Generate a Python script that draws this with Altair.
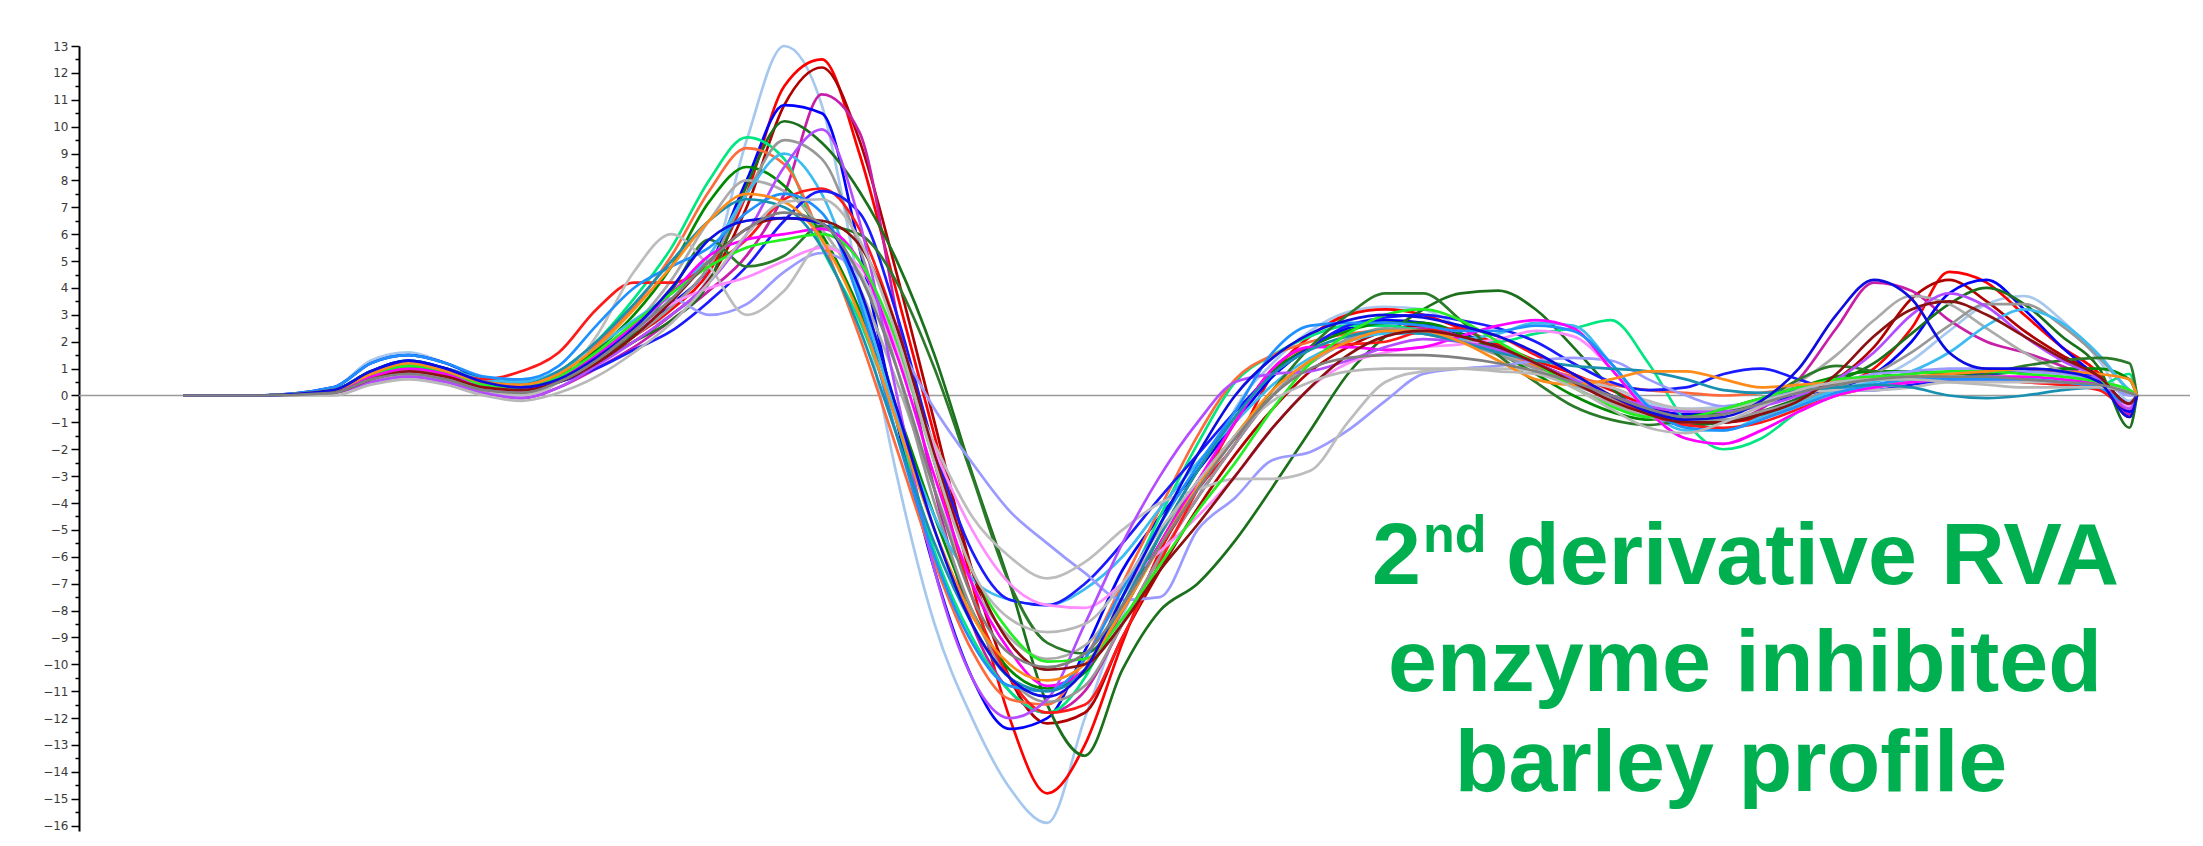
import altair as alt
import pandas as pd

# time axis (minutes) shared by every profile
time_min = [0, 0.5, 1.0, 1.25, 1.5, 1.75, 2.0, 2.25, 2.5, 2.75, 3.0, 3.25, 3.5, 3.75,
            4.0, 4.25, 4.5, 4.75, 5.0, 5.25, 5.5, 5.75, 6.0, 6.25, 6.5, 6.75, 7.0, 7.25,
            7.5, 7.75, 8.0, 8.25, 8.5, 8.75, 9.0, 9.25, 9.5, 9.75, 10.0, 10.25, 10.5, 10.75,
            11.0, 11.25, 11.5, 11.75, 12.0, 12.25, 12.5, 12.75, 12.95, 13.0]

s01 = [0, 0, 0.3, 1.3, 1.6, 1.2, 0.7, 0.5, 0.8, 1.6,
       2.4, 3.0, 4.5, 9.5, 13.0, 10.8, 4.0, -3.0, -8.5, -12.0, -14.6, -15.9, -12.0, -8.2, -5.5, -3.8, -0.5, 1.2,
       2.4, 3.1, 3.3, 3.2, 2.5, 1.8, 1.2, 0.6, 0.2, -0.3, -0.5, -0.4, -0.2, 0.1, 0.3, 0.6, 1.3, 2.4, 3.4, 3.7, 2.8, 1.3, -0.2, 0]
s02 = [0, 0, 0.2, 0.8, 1.1, 0.9, 0.5, 0.3, 0.6, 1.4,
       2.2, 3.2, 4.6, 7.5, 11.5, 12.5, 9.0, 3.8, -1.5, -7.0, -12.0, -14.8, -13.0, -9.2, -5.8, -3.5, -1.8, 0.8,
       2.2, 3.0, 3.2, 3.0, 2.5, 1.9, 1.3, 0.8, 0.2, -0.4, -0.8, -1.0, -0.8, -0.3, 0.3, 1.0, 2.5, 4.6, 4.2, 3.0, 1.8, 0.8, -0.8, 0]
s03 = [0, 0, 0.2, 0.7, 1.0, 0.8, 0.4, 0.2, 0.5, 1.2,
       2.0, 3.0, 4.3, 7.0, 10.8, 12.2, 9.5, 4.5, -1.0, -6.5, -10.5, -12.2, -11.8, -9.0, -6.5, -4.2, -2.2, -0.5,
       0.9, 1.8, 2.4, 2.6, 2.3, 1.8, 1.2, 0.6, 0.0, -0.5, -0.9, -1.0, -0.7, -0.1, 0.6, 1.8, 3.6, 4.3, 3.5, 2.4, 1.5, 0.7, -0.6, 0]
s04 = [0, 0, 0.1, 0.5, 0.7, 0.5, 0.1, -0.1, 0.3, 1.0,
       1.8, 2.8, 3.9, 5.2, 7.5, 11.2, 9.8, 3.0, -3.5, -8.5, -11.0, -11.8, -11.0, -8.5, -6.0, -3.8, -1.8, 0.0,
       1.2, 2.0, 2.4, 2.5, 2.2, 1.7, 1.1, 0.5, -0.1, -0.6, -1.0, -1.0, -0.5, 0.6, 2.5, 4.2, 3.9, 2.8, 2.0, 1.6, 1.1, 0.5, -0.7, 0]
s05 = [0, 0, 0.3, 1.2, 1.5, 1.2, 0.6, 0.4, 0.7, 1.5,
       2.4, 3.4, 4.8, 8.0, 10.8, 10.5, 5.5, -1.0, -6.5, -10.5, -12.4, -12.0, -9.5, -6.5, -4.5, -2.8, -1.0, 0.7,
       1.8, 2.5, 2.8, 2.7, 2.3, 1.8, 1.2, 0.6, 0.0, -0.5, -0.7, -0.6, -0.3, 0.0, 0.3, 0.8, 2.0, 3.8, 4.3, 3.2, 1.8, 0.6, -0.6, 0]
s06 = [0, 0, 0.2, 0.8, 1.1, 0.9, 0.5, 0.3, 0.5, 1.2,
       2.0, 2.8, 4.2, 7.8, 10.2, 9.4, 7.6, 5.0, 1.5, -2.9, -7.0, -11.5, -13.4, -10.2, -8.0, -7.0, -5.4, -3.4,
       -1.3, 0.8, 2.2, 3.2, 3.8, 3.9, 3.2, 1.8, 0.3, -0.7, -1.1, -1.0, -0.6, -0.1, 0.5, 1.2, 2.3, 3.4, 4.0, 3.4, 2.2, 1.0, -1.2, 0]
s07 = [0, 0, 0.2, 0.9, 1.3, 1.0, 0.5, 0.4, 0.9, 2.0,
       3.6, 5.5, 8.0, 9.6, 8.8, 5.5, 2.8, -1.0, -5.8, -9.0, -11.0, -11.8, -10.5, -7.5, -4.5, -1.8, 0.5, 1.5,
       2.2, 2.6, 2.6, 2.4, 2.1, 2.0, 2.3, 2.5, 2.8, 1.2, -1.0, -2.0, -1.6, -0.6, 0.0, 0.4, 0.5, 0.6, 0.6, 0.6, 0.5, 0.4, 0.8, 0]
s08 = [0, 0, 0.2, 0.8, 1.2, 0.9, 0.5, 0.4, 0.9, 1.9,
       3.3, 5.2, 7.6, 9.2, 8.6, 5.8, 2.2, -2.0, -6.2, -9.5, -11.3, -11.5, -9.8, -7.0, -4.2, -1.5, 0.6, 1.5,
       2.0, 2.3, 2.4, 2.3, 2.0, 1.6, 1.1, 0.7, 0.4, 0.2, 0.1, 0.0, 0.1, 0.3, 0.5, 0.6, 0.6, 0.6, 0.6, 0.5, 0.4, 0.3, 0.1, 0]
s09 = [0, 0, 0.2, 0.9, 1.2, 1.0, 0.6, 0.5, 0.8, 1.7,
       3.0, 4.8, 7.2, 8.5, 7.8, 6.0, 3.2, -0.5, -4.5, -8.0, -10.2, -10.9, -10.3, -8.0, -5.2, -2.8, -0.8, 0.9,
       1.8, 2.4, 2.7, 2.7, 2.3, 1.6, 0.8, 0.0, -0.6, -0.9, -0.8, -0.5, -0.1, 0.3, 0.7, 0.9, 0.9, 0.8, 0.8, 0.9, 1.0, 1.0, 0.6, 0]
s10 = [0, 0, 0.2, 0.7, 1.0, 0.8, 0.3, 0.1, 0.5, 1.3,
       2.6, 4.3, 6.5, 8.0, 7.6, 6.2, 4.0, 0.5, -3.5, -7.0, -9.0, -9.8, -9.3, -7.5, -5.2, -3.2, -1.5, 0.0,
       1.2, 2.0, 2.4, 2.4, 2.1, 1.6, 1.0, 0.3, -0.3, -0.8, -1.0, -0.7, -0.2, 0.5, 1.5, 2.8, 3.7, 3.4, 2.5, 1.6, 0.9, 0.5, 0.2, 0]
s11 = [0, 0, 0.1, 0.6, 0.9, 0.7, 0.3, 0.2, 0.5, 1.2,
       2.2, 3.3, 4.8, 7.5, 9.5, 8.8, 5.5, 1.0, -4.0, -8.0, -10.5, -11.4, -10.8, -8.5, -6.0, -3.8, -1.8, 0.0,
       1.3, 2.1, 2.5, 2.4, 2.0, 1.5, 1.0, 0.4, -0.1, -0.6, -0.9, -0.9, -0.6, -0.2, 0.3, 0.8, 1.6, 2.6, 3.4, 3.4, 2.6, 1.4, 0.2, 0]
s12 = [0, 0, 0.2, 0.9, 1.3, 1.0, 0.6, 0.5, 0.9, 1.8,
       2.8, 3.8, 5.2, 7.5, 9.0, 7.5, 3.8, -0.8, -4.5, -6.8, -7.6, -7.8, -7.2, -6.0, -4.2, -2.5, -1.0, 0.4,
       1.4, 2.0, 2.3, 2.3, 2.1, 2.3, 2.7, 2.6, 1.2, -0.5, -1.3, -1.3, -0.8, -0.3, 0.2, 0.5, 0.9, 1.6, 2.6, 3.2, 2.7, 1.5, 0.2, 0]
s13 = [0, 0, 0.2, 0.8, 1.1, 0.9, 0.6, 0.9, 1.6, 3.2,
       4.2, 4.2, 4.8, 5.8, 7.3, 7.7, 6.2, 2.5, -2.5, -7.5, -10.5, -11.8, -11.5, -9.0, -6.2, -3.5, -1.0, 1.0,
       1.8, 1.9, 2.0, 2.4, 2.5, 2.2, 1.5, 0.8, 0.0, -0.7, -1.1, -1.2, -1.0, -0.5, 0.0, 0.3, 0.5, 0.6, 0.6, 0.5, 0.4, 0.2, -0.5, 0]
s14 = [0, 0, 0.2, 0.9, 1.3, 1.0, 0.5, 0.3, 0.5, 1.0,
       1.7, 2.4, 3.5, 4.8, 6.5, 7.6, 6.8, 3.0, -2.0, -5.8, -7.6, -7.8, -7.0, -5.5, -3.8, -2.2, -0.6, 0.8,
       1.8, 2.6, 2.9, 3.0, 2.8, 2.5, 2.0, 1.2, 0.5, 0.2, 0.3, 0.8, 1.0, 0.6, 0.2, 0.2, 0.4, 0.6, 0.8, 0.9, 0.9, 0.6, -0.3, 0]
s15 = [0, 0, 0.1, 0.6, 0.9, 0.7, 0.3, 0.2, 0.5, 1.2,
       2.3, 3.9, 5.8, 4.8, 5.2, 6.3, 6.0, 4.2, 1.0, -3.0, -7.0, -9.2, -9.6, -8.0, -5.5, -3.2, -1.5, 0.2,
       1.8, 3.0, 3.8, 3.8, 2.8, 1.5, 0.5, -0.4, -0.9, -1.1, -0.9, -0.6, -0.2, 0.6, 1.1, 0.9, 0.6, 0.6, 0.8, 1.1, 1.3, 1.4, 1.2, 0]
s16 = [0, 0, 0.2, 0.8, 1.2, 0.9, 0.5, 0.4, 0.7, 1.5,
       2.4, 3.6, 3.0, 3.4, 4.6, 5.3, 4.5, 2.0, -0.5, -2.5, -4.3, -5.5, -6.6, -7.6, -7.5, -5.0, -3.8, -2.4,
       -2.1, -1.3, -0.2, 0.8, 1.0, 1.1, 1.3, 1.4, 1.3, 0.6, 0.0, -0.4, -0.2, 0.2, 0.5, 0.8, 0.9, 1.0, 1.0, 0.9, 0.8, 0.6, 0.0, 0]
s17 = [0, 0, 0.1, 0.5, 0.7, 0.5, 0.1, 0.0, 0.5, 2.2,
       4.6, 6.0, 4.8, 3.0, 3.9, 5.6, 4.6, 1.5, -1.8, -4.5, -6.0, -6.8, -6.2, -5.0, -4.0, -3.5, -3.1, -3.1,
       -2.8, -1.0, 0.5, 0.9, 1.0, 1.0, 0.9, 0.6, 0.3, -0.2, -0.5, -0.5, -0.2, 0.1, 0.2, 0.2, 0.3, 0.5, 0.5, 0.5, 0.5, 0.4, 0.2, 0]
s18 = [0, 0, 0.1, 0.6, 0.9, 0.7, 0.3, 0.2, 0.6, 1.4,
       2.4, 3.4, 4.0, 4.4, 5.0, 5.5, 4.8, 1.8, -2.0, -5.0, -7.0, -7.8, -7.9, -7.0, -5.8, -4.5, -3.0, -1.2,
       0.3, 1.2, 1.6, 1.8, 1.9, 2.1, 2.4, 2.2, 1.0, -0.6, -1.6, -1.8, -1.3, -0.6, 0.0, 0.3, 0.5, 0.6, 0.6, 0.6, 0.5, 0.4, -0.4, 0]
s19 = [0, 0, 0.2, 0.7, 1.0, 0.8, 0.3, 0.2, 0.6, 1.5,
       2.6, 3.8, 5.2, 5.8, 6.0, 6.2, 5.0, 1.5, -3.0, -7.0, -9.5, -10.8, -10.2, -8.0, -5.5, -3.2, -1.0, 1.0,
       1.8, 1.8, 1.7, 1.8, 2.2, 2.6, 2.8, 2.5, 1.0, -0.6, -1.6, -1.8, -1.3, -0.6, 0.0, 0.3, 0.5, 0.6, 0.7, 0.7, 0.6, 0.4, -0.3, 0]
s20 = [0, 0, 0.1, 0.5, 0.7, 0.5, 0.1, -0.1, 0.3, 1.1,
       2.0, 3.0, 4.2, 6.0, 8.5, 9.9, 6.5, 0.0, -6.5, -10.5, -12.0, -11.3, -8.5, -5.5, -3.0, -1.0, 0.5, 0.8,
       0.9, 1.3, 1.8, 2.1, 2.0, 1.7, 1.2, 0.6, 0.0, -0.4, -0.6, -0.6, -0.4, 0.0, 0.6, 1.6, 3.0, 3.8, 3.3, 2.2, 1.3, 0.6, -0.5, 0]
s21 = [0, 0, 0.3, 1.2, 1.5, 1.2, 0.7, 0.6, 1.1, 2.6,
       4.0, 4.8, 5.5, 6.8, 7.5, 6.8, 3.5, -1.5, -6.0, -9.2, -10.8, -11.0, -9.8, -7.2, -4.8, -2.6, -0.6, 1.6,
       2.6, 2.7, 2.7, 2.6, 2.4, 2.4, 2.6, 2.4, 1.2, -0.4, -1.2, -1.3, -0.9, -0.4, 0.1, 0.4, 0.6, 0.6, 0.6, 0.6, 0.5, 0.3, -0.3, 0]
s22 = [0, 0, 0.2, 0.8, 1.1, 0.9, 0.5, 0.4, 0.9, 2.0,
       3.4, 5.0, 6.5, 7.3, 7.0, 5.5, 2.5, -1.5, -5.5, -8.5, -10.5, -11.0, -10.2, -7.8, -5.2, -2.8, -0.8, 0.8,
       1.7, 2.2, 2.4, 2.3, 2.0, 1.6, 1.3, 1.1, 1.0, 0.9, 0.6, 0.2, 0.1, 0.2, 0.3, 0.4, 0.3, 0.0, -0.1, 0.0, 0.2, 0.3, 0.1, 0]
s23 = [0, 0, 0.2, 0.8, 1.1, 0.9, 0.4, 0.3, 0.7, 1.6,
       2.7, 3.8, 4.8, 5.5, 5.8, 6.0, 5.0, 2.0, -2.5, -6.5, -8.8, -9.9, -9.8, -8.3, -6.3, -4.3, -2.5, -0.5,
       1.2, 2.3, 3.0, 3.2, 2.8, 2.0, 1.2, 0.3, -0.4, -0.8, -0.8, -0.5, -0.1, 0.3, 0.6, 0.7, 0.8, 0.9, 0.9, 0.8, 0.7, 0.5, 0.2, 0]
s24 = [0, 0, 0.2, 0.8, 1.2, 0.9, 0.5, 0.4, 0.8, 1.8,
       3.2, 4.8, 6.5, 7.5, 7.2, 5.8, 3.0, -1.0, -5.0, -8.2, -10.0, -10.6, -10.0, -8.0, -5.6, -3.4, -1.5, 0.2,
       1.3, 2.0, 2.4, 2.4, 2.0, 1.3, 0.6, 0.4, 0.6, 0.9, 0.9, 0.6, 0.3, 0.4, 0.5, 0.6, 0.7, 0.8, 0.9, 1.0, 0.9, 0.8, 0.6, 0]
s25 = [0, 0, 0.1, 0.6, 0.9, 0.7, 0.3, 0.2, 0.5, 1.2,
       2.2, 3.5, 5.0, 6.2, 6.6, 6.5, 5.6, 2.5, -2.2, -6.5, -9.2, -10.2, -10.0, -8.5, -6.5, -4.8, -3.0, -1.2,
       0.3, 1.5, 2.2, 2.4, 2.2, 1.8, 1.2, 0.5, -0.2, -0.7, -1.0, -1.0, -0.7, -0.2, 0.8, 2.2, 3.2, 3.5, 3.0, 2.2, 1.4, 0.7, -0.3, 0]
s26 = [0, 0, 0.0, 0.4, 0.6, 0.4, 0.0, -0.2, 0.1, 0.7,
       1.6, 2.7, 4.2, 6.0, 7.2, 7.3, 5.8, 2.2, -2.5, -6.5, -8.3, -8.8, -8.5, -7.0, -5.0, -3.2, -1.5, -0.2,
       0.5, 0.9, 1.0, 1.0, 1.0, 0.9, 0.8, 0.3, -0.5, -1.2, -1.4, -1.0, -0.4, 0.2, 0.5, 0.6, 0.6, 0.5, 0.4, 0.3, 0.3, 0.3, 0.1, 0]
s27 = [0, 0, 0.2, 0.9, 1.3, 1.0, 0.5, 0.3, 0.6, 1.4,
       2.5, 4.0, 5.8, 6.5, 6.6, 6.4, 4.0, -0.5, -5.0, -8.5, -10.5, -11.2, -10.2, -7.5, -4.8, -2.2, 0.0, 1.4,
       2.3, 2.8, 3.0, 2.9, 2.6, 2.2, 1.6, 0.8, 0.0, -0.6, -0.9, -0.8, -0.2, 1.0, 3.0, 4.3, 3.6, 1.6, 1.0, 1.0, 0.9, 0.5, -0.8, 0]
s28 = [0, 0, 0.1, 0.6, 0.8, 0.6, 0.2, 0.1, 0.5, 1.3,
       2.4, 3.6, 5.0, 6.2, 6.8, 6.4, 4.5, 1.0, -3.5, -7.5, -9.6, -10.1, -9.6, -7.8, -5.6, -3.5, -1.6, 0.0,
       1.0, 1.4, 1.5, 1.5, 1.4, 1.2, 0.9, 0.5, 0.0, -0.5, -0.8, -0.7, -0.3, 0.1, 0.4, 0.6, 0.7, 0.7, 0.7, 0.6, 0.5, 0.4, 0.1, 0]

series_names = ["S01", "S02", "S03", "S04", "S05", "S06", "S07", "S08", "S09", "S10",
                "S11", "S12", "S13", "S14", "S15", "S16", "S17", "S18", "S19", "S20",
                "S21", "S22", "S23", "S24", "S25", "S26", "S27", "S28"]
series_colors = ["#a6c8ee", "#ff0000", "#b00000", "#c71fa8", "#0000ff", "#1b701b", "#00e680",
                 "#ff6a3d", "#008a00", "#ababab", "#979797", "#3cbcf0", "#ff1a1a", "#1a1aff",
                 "#2a7a2a", "#9a9aff", "#bdbdbd", "#ff8cff", "#ff00ff", "#b44cff", "#1e90ff",
                 "#1a90b0", "#22ee22", "#ff8c1a", "#8b1010", "#b8b8b8", "#0d0de0", "#808080"]
series_values = [s01, s02, s03, s04, s05, s06, s07, s08, s09, s10, s11, s12, s13, s14,
                 s15, s16, s17, s18, s19, s20, s21, s22, s23, s24, s25, s26, s27, s28]

y_tick_values = [k / 2 for k in range(-32, 27)]
title_line1_a = "2"
title_line1_sup = "nd"
title_line1_b = "derivative RVA"
title_line2 = "enzyme inhibited"
title_line3 = "barley profile"

rows = []
for name, vals in zip(series_names, series_values):
    assert len(vals) == len(time_min), name
    for t, v in zip(time_min, vals):
        rows.append({"series": name, "time": t, "value": v})
df = pd.DataFrame(rows)

x_scale = alt.Scale(domain=[-0.692, 13.353], nice=False, zero=False)
y_scale = alt.Scale(domain=[-16.2, 13], nice=False, zero=False)

y_axis = alt.Axis(
    values=y_tick_values,
    labelExpr="datum.value % 1 === 0 ? format(datum.value, 'd') : ''",
    tickSize={"condition": {"test": "datum.value % 1 !== 0", "value": 4}, "value": 8},
    labelOverlap=False,
    labelFont="DejaVu Sans",
    labelFontSize=12,
    labelColor="#3a3a3a",
    labelPadding=3,
    domainColor="#000000",
    domainWidth=2,
    tickColor="#000000",
    tickWidth=1.5,
    grid=False,
    title=None,
)

zero = alt.Chart(pd.DataFrame({"value": [0]})).mark_rule(color="#9a9a9a", strokeWidth=1.5).encode(
    y=alt.Y("value:Q", scale=y_scale, axis=y_axis)
)

lines = alt.Chart(df).mark_line(strokeWidth=2.7, interpolate="monotone").encode(
    x=alt.X("time:Q", scale=x_scale, axis=None),
    y=alt.Y("value:Q", scale=y_scale, axis=y_axis),
    color=alt.Color("series:N", scale=alt.Scale(domain=series_names, range=series_colors), legend=None),
)

one = pd.DataFrame({"k": [0]})
green = "#00b050"
font = "Liberation Sans"


def label(txt, x, y, size, align):
    return alt.Chart(one).mark_text(
        text=txt, font=font, fontSize=size, fontWeight="bold", color=green,
        align=align, baseline="alphabetic"
    ).encode(x=alt.value(x), y=alt.value(y))


t1 = label(title_line1_a, 1293, 538, 88, "left")
t1s = label(title_line1_sup, 1344, 506, 52, "left")
t1b = label(title_line1_b, 1427, 538, 88, "left")
t2 = label(title_line2, 1666, 645, 88, "center")
t3 = label(title_line3, 1652, 745, 88, "center")

chart = alt.layer(zero, lines, t1, t1s, t1b, t2, t3).properties(
    width=2111,
    height=785,
    padding={"left": 71, "top": 38, "right": 0, "bottom": 4},
    autosize=alt.AutoSizeParams(type="none"),
    background="white",
).configure_view(stroke=None)

chart.save("out.html", embed_options={"renderer": "svg", "actions": False})
